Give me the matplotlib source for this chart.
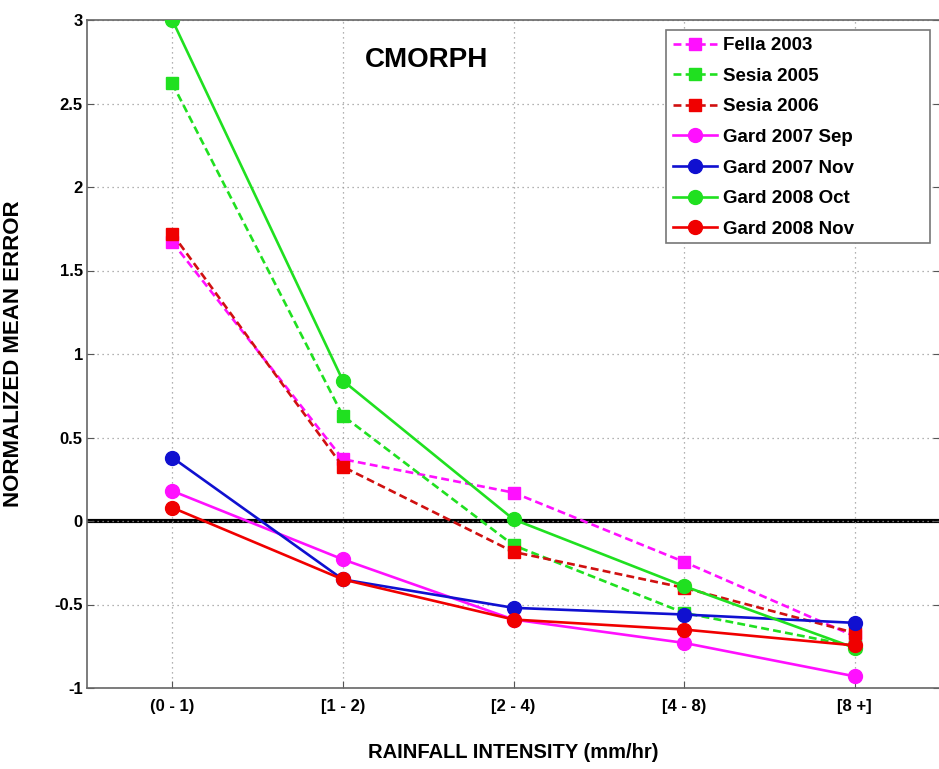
import matplotlib
matplotlib.use("Agg")
import matplotlib.pyplot as plt
from matplotlib.patches import Rectangle

plt.rcParams['font.family'] = ['Liberation Sans', 'DejaVu Sans']
plt.rcParams['font.weight'] = 'bold'

categories = ["(0 - 1)", "[1 - 2)", "[2 - 4)", "[4 - 8)", "[8 +]"]

fella_2003 = [1.67, 0.37, 0.17, -0.245, -0.69]
sesia_2005 = [2.62, 0.63, -0.145, -0.55, -0.75]
sesia_2006 = [1.72, 0.325, -0.185, -0.40, -0.67]
gard_2007_sep = [0.18, -0.23, -0.59, -0.73, -0.93]
gard_2007_nov = [0.38, -0.35, -0.52, -0.56, -0.61]
gard_2008_oct = [3.0, 0.84, 0.01, -0.39, -0.76]
gard_2008_nov = [0.08, -0.35, -0.59, -0.65, -0.745]

yticks = [-1, -0.5, 0, 0.5, 1, 1.5, 2, 2.5, 3]
ytick_labels = ["-1", "-0.5", "0", "0.5", "1", "1.5", "2", "2.5", "3"]

MAG = '#FF10FF'
GRN = '#20E020'
RED = '#F00000'
DRED = '#D01010'
BLU = '#1010D0'

fig = plt.figure(figsize=(9.39, 7.69), dpi=100)
ax = fig.add_axes([87/939, 1-688/769, 853/939, 668/769])

x = list(range(1, len(categories) + 1))
dash = (3.0, 1.6)
lw = 1.9

ax.axhline(0, color='black', lw=3, zorder=1)

series = [
    ("Fella 2003", fella_2003, MAG, MAG, 's', '--'),
    ("Sesia 2005", sesia_2005, GRN, GRN, 's', '--'),
    ("Sesia 2006", sesia_2006, DRED, RED, 's', '--'),
    ("Gard 2007 Sep", gard_2007_sep, MAG, MAG, 'o', '-'),
    ("Gard 2007 Nov", gard_2007_nov, BLU, BLU, 'o', '-'),
    ("Gard 2008 Oct", gard_2008_oct, GRN, GRN, 'o', '-'),
    ("Gard 2008 Nov", gard_2008_nov, RED, RED, 'o', '-'),
]
for name, vals, lc, mc, mk, ls in series:
    ms = 9 if mk == 's' else 10
    line, = ax.plot(x, vals, color=lc, lw=lw, linestyle=ls, marker=mk,
                    markersize=ms, markerfacecolor=mc, markeredgecolor=mc,
                    label=name, zorder=3)
    if ls == '--':
        line.set_dashes(dash)

ax.set_xlim(0.5, 5.5)
ax.set_ylim(-1, 3)
ax.set_xticks(x)
ax.set_xticklabels(categories, fontsize=12, fontweight='bold')
ax.set_yticks(yticks)
ax.set_yticklabels(ytick_labels, fontsize=12, fontweight='bold')
ax.tick_params(direction='in', length=5, color='#555555', right=True)
ax.tick_params(axis='x', pad=8)
ax.tick_params(axis='y', pad=3)
ax.grid(True, linestyle=(0, (1, 3)), color='#999999', lw=0.9)
for s in ax.spines.values():
    s.set_color('#666666')
    s.set_linewidth(1.2)

ax.set_xlabel("RAINFALL INTENSITY (mm/hr)", fontsize=14.5, fontweight='bold', labelpad=21)
ax.set_ylabel("NORMALIZED MEAN ERROR", fontsize=16, fontweight='bold')
ax.yaxis.set_label_coords((24 - 87) / 853, 0.5)

ax.text(2.49, 2.76, "CMORPH", fontsize=20, fontweight='bold', ha='center', va='center')

# legend box (MATLAB-style, wider than its content)
ax.add_patch(Rectangle(((666 - 87) / 853, (688 - 243) / 668), (930 - 666) / 853,
                       (243 - 30) / 668, transform=ax.transAxes, facecolor='white',
                       edgecolor='#777777', lw=1.2, zorder=5))
leg = ax.legend(loc='upper left', bbox_to_anchor=((673 - 87) / 853, (688 - 37) / 668),
                borderaxespad=0, frameon=False,
                prop={'size': 13.5, 'weight': 'bold'}, handlelength=2.35,
                labelspacing=0.72, borderpad=0, handletextpad=0.3)
leg.set_zorder(6)

fig.savefig("out.png", dpi=100)
